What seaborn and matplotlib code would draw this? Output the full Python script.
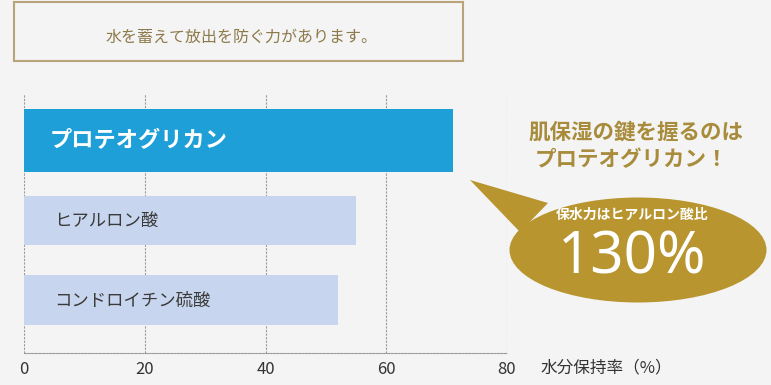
import matplotlib
matplotlib.use("Agg")
import matplotlib.pyplot as plt
from matplotlib.patches import Rectangle, Ellipse, Polygon
import seaborn as sns

# data
names = ["プロテオグリカン", "ヒアルロン酸", "コンドロイチン硫酸"]
retention = [71, 55, 52]
ticks = [0, 20, 40, 60, 80]
bar_colors = ["#1e9fd8", "#c7d6ee", "#c7d6ee"]

sns.set_theme(style="white")
plt.rcParams["font.family"] = ["Noto Sans CJK JP", "DejaVu Sans"]

W, H = 771, 385
bg = "#f4f4f4"
gold = "#b8952f"
fig = plt.figure(figsize=(W / 100, H / 100), dpi=100, facecolor=bg)


def px(x, y):
    return x / W, 1 - y / H


ax = fig.add_axes([24 / W, 1 - 353 / H, 483 / W, 259 / H])
ax.set_facecolor(bg)
sns.barplot(x=retention, y=names, hue=names, palette=bar_colors, saturation=1,
            legend=False, width=0.625, orient="h", ax=ax, zorder=3,
            linewidth=0, edgecolor="none")
# the highlighted bar is drawn thicker
big = ax.patches[0]
big.set_y(-0.395)
big.set_height(0.79)

ax.set_xlim(0, 80)
ax.set_ylim(2.66, -0.585)
ax.set_xticks(ticks)
ax.set_yticks([])
ax.set_xlabel("")
ax.set_ylabel("")
ax.xaxis.grid(True, color="#9a9a9a", linestyle=(0, (2, 1.2)), linewidth=0.8, zorder=0)
for s in ["top", "right", "left"]:
    ax.spines[s].set_visible(False)
ax.spines["bottom"].set_linestyle((0, (2, 1.2)))
ax.spines["bottom"].set_color("#9a9a9a")
ax.spines["bottom"].set_linewidth(0.8)
ax.tick_params(axis="x", length=0, pad=6, labelsize=12, labelcolor="#333333")

for i, (n, v) in enumerate(zip(names, retention)):
    if i == 0:
        ax.text(4.2, i, n, color="white", fontsize=16, fontweight="bold",
                va="center", ha="left", zorder=4)
    else:
        ax.text(5.0, i, n, color="#3a3a3a", fontsize=12.5,
                va="center", ha="left", zorder=4)

fig.text(*px(541, 368), "水分保持率（%）", fontsize=12, color="#333333",
         ha="left", va="center")

# title box
fig.patches.append(Rectangle(px(14, 61), 449 / W, 59 / H, transform=fig.transFigure,
                             fill=False, edgecolor="#b9a47a", linewidth=1.5))
fig.text(*px(242, 37), "水を蓄えて放出を防ぐ力があります。", fontsize=11.5,
         color="#8c7a4a", ha="center", va="center")

# callout
fig.text(*px(636, 132), "肌保湿の鍵を握るのは", fontsize=15.5, fontweight="bold",
         color="#a88c3c", ha="center", va="center")
fig.text(*px(631, 160), "プロテオグリカン！", fontsize=15.5, fontweight="bold",
         color="#a88c3c", ha="center", va="center")
fig.patches.append(Polygon([px(470, 180), px(548, 203), px(520, 232)],
                           closed=True, transform=fig.transFigure,
                           facecolor=gold, edgecolor="none"))
fig.patches.append(Ellipse(px(638, 250), 257 / W, 105 / H, transform=fig.transFigure,
                           facecolor=gold, edgecolor="none"))
fig.text(*px(632, 215), "保水力はヒアルロン酸比", fontsize=10, fontweight="bold",
         color="white", ha="center", va="center")
fig.text(*px(632, 258), "130%", fontsize=42, color="white",
         ha="center", va="center", family=["Noto Sans", "DejaVu Sans"])

fig.savefig("out.png", dpi=100, facecolor=bg)
